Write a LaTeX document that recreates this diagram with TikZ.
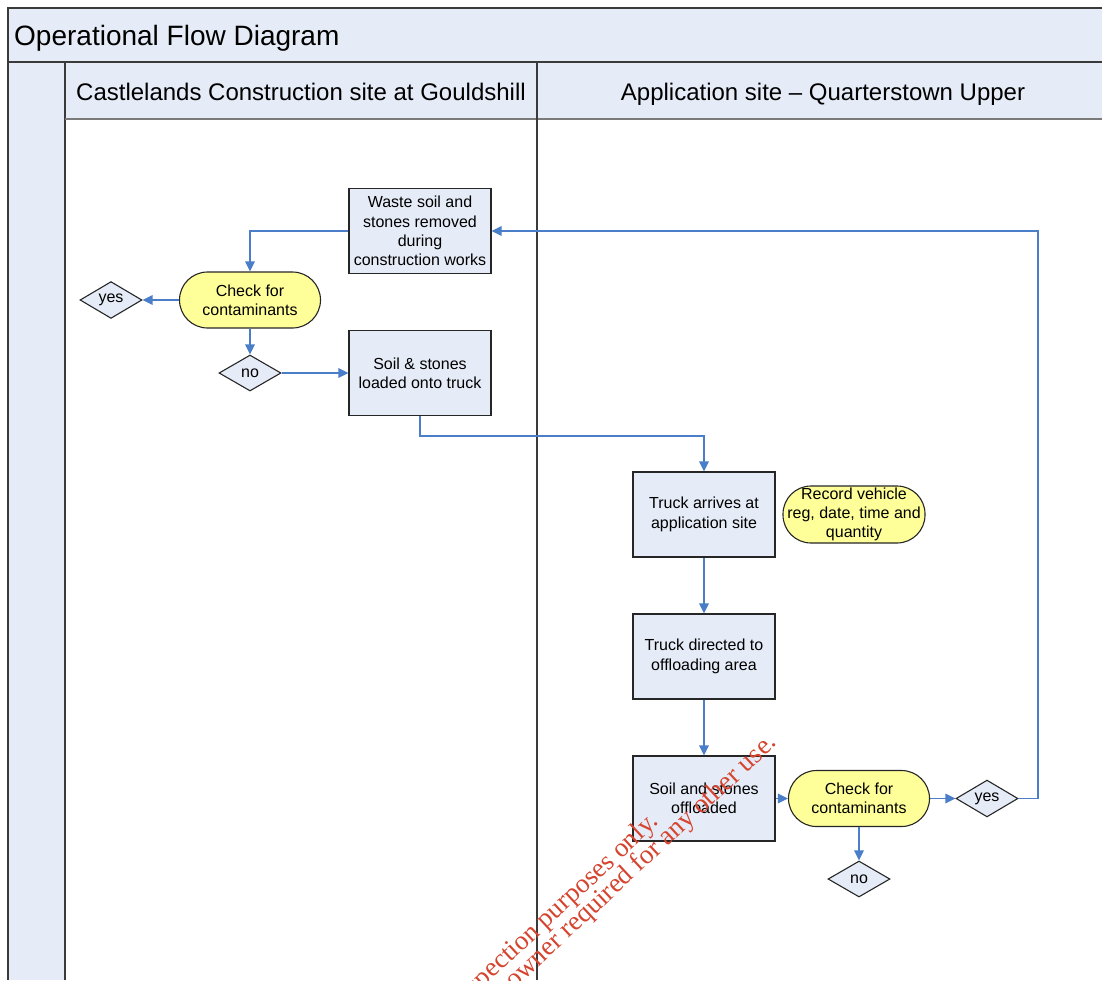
\documentclass[tikz,border=0pt]{standalone}
\usepackage{fontspec}
\setmainfont{Liberation Sans}
\newfontfamily\wmfont{Liberation Serif}
\usetikzlibrary{arrows.meta,shapes.geometric}
\definecolor{paneblue}{HTML}{E6ECF7}
\definecolor{boxblue}{HTML}{E6ECF7}
\definecolor{pillyellow}{HTML}{FFFF99}
\definecolor{connblue}{HTML}{4A7EC8}
\definecolor{framegray}{HTML}{3A3A3A}
\definecolor{headline}{HTML}{7A7A7A}
\definecolor{wmred}{HTML}{D5442E}
\begin{document}
\begin{tikzpicture}[x=1pt,y=-1pt,
  frameline/.style={draw=framegray, line width=1.6pt},
  procbox/.style={draw=black!85, line width=1.1pt, fill=boxblue,
    minimum width=142pt, minimum height=85pt, inner sep=0pt, align=center,
    font=\fontsize{16pt}{19.3pt}\selectfont},
  pill/.style={draw=black!85, line width=1.1pt, fill=pillyellow,
    minimum width=141pt, minimum height=56pt, rounded corners=28pt,
    inner sep=0pt, align=center, font=\fontsize{16pt}{19.3pt}\selectfont},
  decision/.style={diamond, draw=black!85, line width=1.1pt, fill=boxblue,
    minimum width=62pt, minimum height=36pt, inner sep=0pt,
    font=\fontsize{16pt}{19.3pt}\selectfont},
  conn/.style={draw=connblue, line width=1.2pt,
    -{Triangle[length=10pt,width=9.5pt]}},
  headtext/.style={inner sep=0pt, font=\fontsize{24pt}{28pt}\selectfont},
  wm/.style={inner sep=0pt, text=wmred, rotate=43,
    font=\wmfont\fontsize{27pt}{30pt}\selectfont}]
\useasboundingbox (0,0) rectangle (1102,980);
\clip (0,0) rectangle (1102,980);

% panes
\fill[paneblue] (8,8) rectangle (1102,62);
\fill[paneblue] (8,62) rectangle (65,980);
\fill[paneblue] (65,62) rectangle (1102,119);
\draw[frameline] (8,980) -- (8,8) -- (1102,8);
\draw[frameline] (8,62) -- (1102,62);
\draw[frameline] (65,62) -- (65,980);
\draw[draw=headline, line width=1.6pt] (65,119) -- (1102,119);
\draw[frameline] (537,62) -- (537,980);

% headers
\node[inner sep=0pt, anchor=base west, font=\fontsize{28pt}{32pt}\selectfont] (title) at (14,45.5) {Operational Flow Diagram};
\begin{scope}
  \clip (65,62) rectangle (523,119);
  \node[headtext, anchor=base west] (lane1) at (76,100) {Castlelands Construction site at Gouldshill};
\end{scope}
\node[headtext, anchor=base] (lane2) at (823,100) {Application site -- Quarterstown Upper};

% left lane
\node[procbox] (waste) at (420,231) {Waste soil and\\stones removed\\during\\construction works};
\node[pill] (chk1) at (250,300) {Check for\\contaminants};
\node[decision] (yes1) at (111,300) {yes};
\node[decision] (no1) at (250,373) {no};
\node[procbox] (load) at (420,373) {Soil \& stones\\loaded onto truck};

% right lane
\node[procbox] (arr) at (704,514.5) {Truck arrives at\\application site};
\node[pill, minimum width=142pt, minimum height=57pt] (rec) at (854,514.5) {Record vehicle\\reg, date, time and\\quantity};
\node[procbox] (dir) at (704,656.5) {Truck directed to\\offloading area};
\node[procbox] (off) at (704,798.5) {Soil and stones\\offloaded};
\node[pill] (chk2) at (859,798.5) {Check for\\contaminants};
\node[decision] (yes2) at (987,798.5) {yes};
\node[decision] (no2) at (859,879) {no};

% connectors
\coordinate (bend1) at (420,436);
\coordinate (ret) at (1038,231);
\draw[conn] (waste.west) -| (chk1.north);
\draw[conn] (chk1.west) -- (yes1.east);
\draw[conn] (chk1.south) -- (no1.north);
\draw[conn] (no1.east) -- (load.west);
\draw[conn] (load.south) -- (bend1) -| (arr.north);
\draw[conn] (arr.south) -- (dir.north);
\draw[conn] (dir.south) -- (off.north);
\draw[conn] (off.east) -- (chk2.west);
\draw[conn] (chk2.east) -- (yes2.west);
\draw[conn] (chk2.south) -- (no2.north);
\draw[conn] (yes2.east) -| (ret) -- (waste.east);

% watermark
\node[wm, anchor=base east] (wm1) at (660,823) {For inspection purposes only.};
\node[wm, anchor=base east] (wm2) at (778,744) {Consent of copyright owner required for any other use.};
\end{tikzpicture}
\end{document}
